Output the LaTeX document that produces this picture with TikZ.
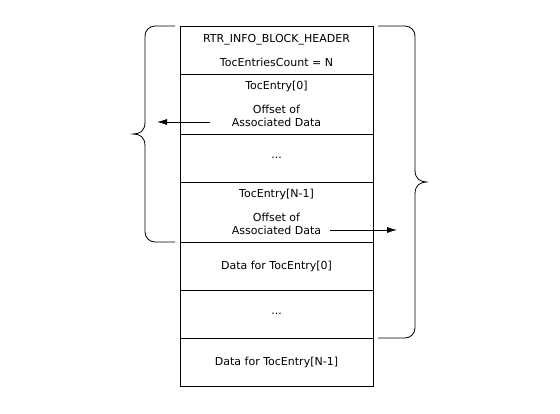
\documentclass[tikz,border=0pt]{standalone}
\usepackage{fontspec}
\setmainfont{DejaVu Sans}
\usetikzlibrary{arrows.meta,positioning}

\begin{document}
\begin{tikzpicture}[x=1pt,y=-1pt,>={Latex[length=10pt,width=6pt]},
                    line width=0.8pt,node distance=0pt]
  \tikzstyle{row}=[draw,minimum width=193pt,inner sep=0pt,outer sep=0pt,
                   align=center,font=\fontsize{11}{13}\selectfont]
  \tikzstyle{brace}=[rounded corners=10pt]
  \useasboundingbox (0,0) rectangle (560,413);

  \node[row,minimum height=48pt] (H) at (276.5,50)
        {RTR\_INFO\_BLOCK\_HEADER\\[11pt]TocEntriesCount = N}; % header
  \node[row,minimum height=60pt] (T0) [below=of H]
        {TocEntry[0]\\[11pt]Offset of\\Associated Data};      % first entry
  \node[row,minimum height=48pt] (TD) [below=of T0] {...};
  \node[row,minimum height=60pt] (TN) [below=of TD]
        {TocEntry[N-1]\\[11pt]Offset of\\Associated Data};    % last entry
  \node[row,minimum height=48pt] (D0) [below=of TN] {Data for TocEntry[0]};
  \node[row,minimum height=48pt] (DD) [below=of D0] {...};
  \node[row,minimum height=48pt] (DN) [below=of DD] {Data for TocEntry[N-1]};

  % arrow ends
  \coordinate (a0) at (210,122);
  \coordinate (b0) at (157,122);
  \coordinate (a1) at (330,230);
  \coordinate (b1) at (397,230);
  \draw[->] (a0) -- (b0);
  \draw[->] (a1) -- (b1);

  % left brace (toc entries)
  \draw[brace] (175,26) -- (145,26) -- (145,122);
  \draw (145,122) .. controls (145,131) and (140,134) .. (133,134)
                  .. controls (140,134) and (145,137) .. (145,146);
  \draw[brace] (145,146) -- (145,242) -- (175,242);

  % right brace (whole block)
  \draw[brace] (378,26) -- (415,26) -- (415,170);
  \draw (415,170) .. controls (415,179) and (420,182) .. (428,182)
                  .. controls (420,182) and (415,185) .. (415,194);
  \draw[brace] (415,194) -- (415,338) -- (378,338);
\end{tikzpicture}
\end{document}
